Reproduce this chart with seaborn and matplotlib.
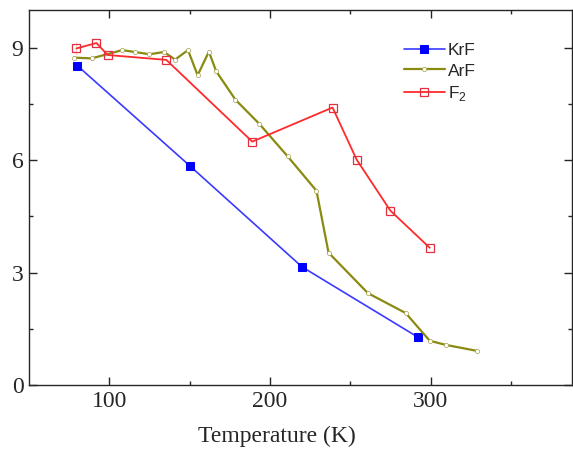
import numpy as np
import pandas as pd
import matplotlib
matplotlib.use("Agg")
import matplotlib.pyplot as plt
import seaborn as sns

# 数据
krf_temp = [80, 150, 220, 292]
krf_val = [8.52, 5.85, 3.15, 1.28]

arf_temp = [78, 89, 108, 116, 125, 134, 141, 149, 155, 162, 166.5, 178.5,
            193.5, 211, 229, 236.5, 261, 284.5, 299.5, 309.5, 329]
arf_val = [8.73, 8.71, 8.93, 8.88, 8.82, 8.88, 8.68, 8.93, 8.26, 8.89, 8.37,
           7.61, 6.96, 6.10, 5.18, 3.53, 2.45, 1.92, 1.18, 1.07, 0.91]

f2_temp = [79.5, 79.5, 92, 99, 135.5, 189, 239, 254, 275, 299.5]
f2_val = [8.8, 9.15, 9.12, 8.8, 8.67, 6.49, 7.4, 6.01, 4.65, 3.66]

sns.set_style("ticks")
plt.rcParams['font.family'] = ['Liberation Serif', 'DejaVu Serif']
plt.rcParams['mathtext.fontset'] = 'custom'
plt.rcParams['mathtext.rm'] = 'Liberation Sans'

fig = plt.figure(figsize=(5.73, 4.51), dpi=100)
ax = fig.add_axes([0.0506, 0.1463, 0.9474, 0.8315])

sns.lineplot(x=krf_temp, y=krf_val, ax=ax, sort=False, color='#3a3aff',
             lw=1.2, marker='s', markersize=6, markerfacecolor='#0000ff',
             markeredgecolor='#0000ff', label='KrF')
sns.lineplot(x=arf_temp, y=arf_val, ax=ax, sort=False, color='#8a8a10',
             lw=1.6, marker='o', markersize=3, markerfacecolor='white',
             markeredgecolor='#a0a050', markeredgewidth=0.5, label='ArF')
sns.lineplot(x=f2_temp, y=f2_val, ax=ax, sort=False, color='#ff2a2a',
             lw=1.3, marker='s', markersize=5.5, markerfacecolor='none',
             markeredgecolor='#e03040', markeredgewidth=0.9, label='F$_2$')

ax.set_xlim(50, 388)
ax.set_ylim(0, 10)
ax.set_xticks([100, 200, 300])
ax.set_xticks([150, 250, 350], minor=True)
ax.set_yticks([0, 3, 6, 9])
ax.set_yticks([1.5, 4.5, 7.5], minor=True)
ax.tick_params(which='both', direction='in', top=True, right=True,
               labelsize=17, width=1.0, pad=4)
ax.tick_params(which='major', length=6)
ax.tick_params(which='minor', length=3)
for s in ax.spines.values():
    s.set_linewidth(1.0)
ax.set_xlabel('Temperature (K)', fontsize=17)
ax.xaxis.set_label_coords(0.457, -0.11)
ax.set_ylabel('')

leg = ax.legend(loc='upper left', bbox_to_anchor=(0.69, 0.912), frameon=False,
                prop={'family': 'Liberation Sans', 'size': 12.5},
                handlelength=2.4, handletextpad=0.15, labelspacing=0.3,
                borderpad=0, borderaxespad=0)

plt.savefig('out.png', dpi=100)
plt.close()
